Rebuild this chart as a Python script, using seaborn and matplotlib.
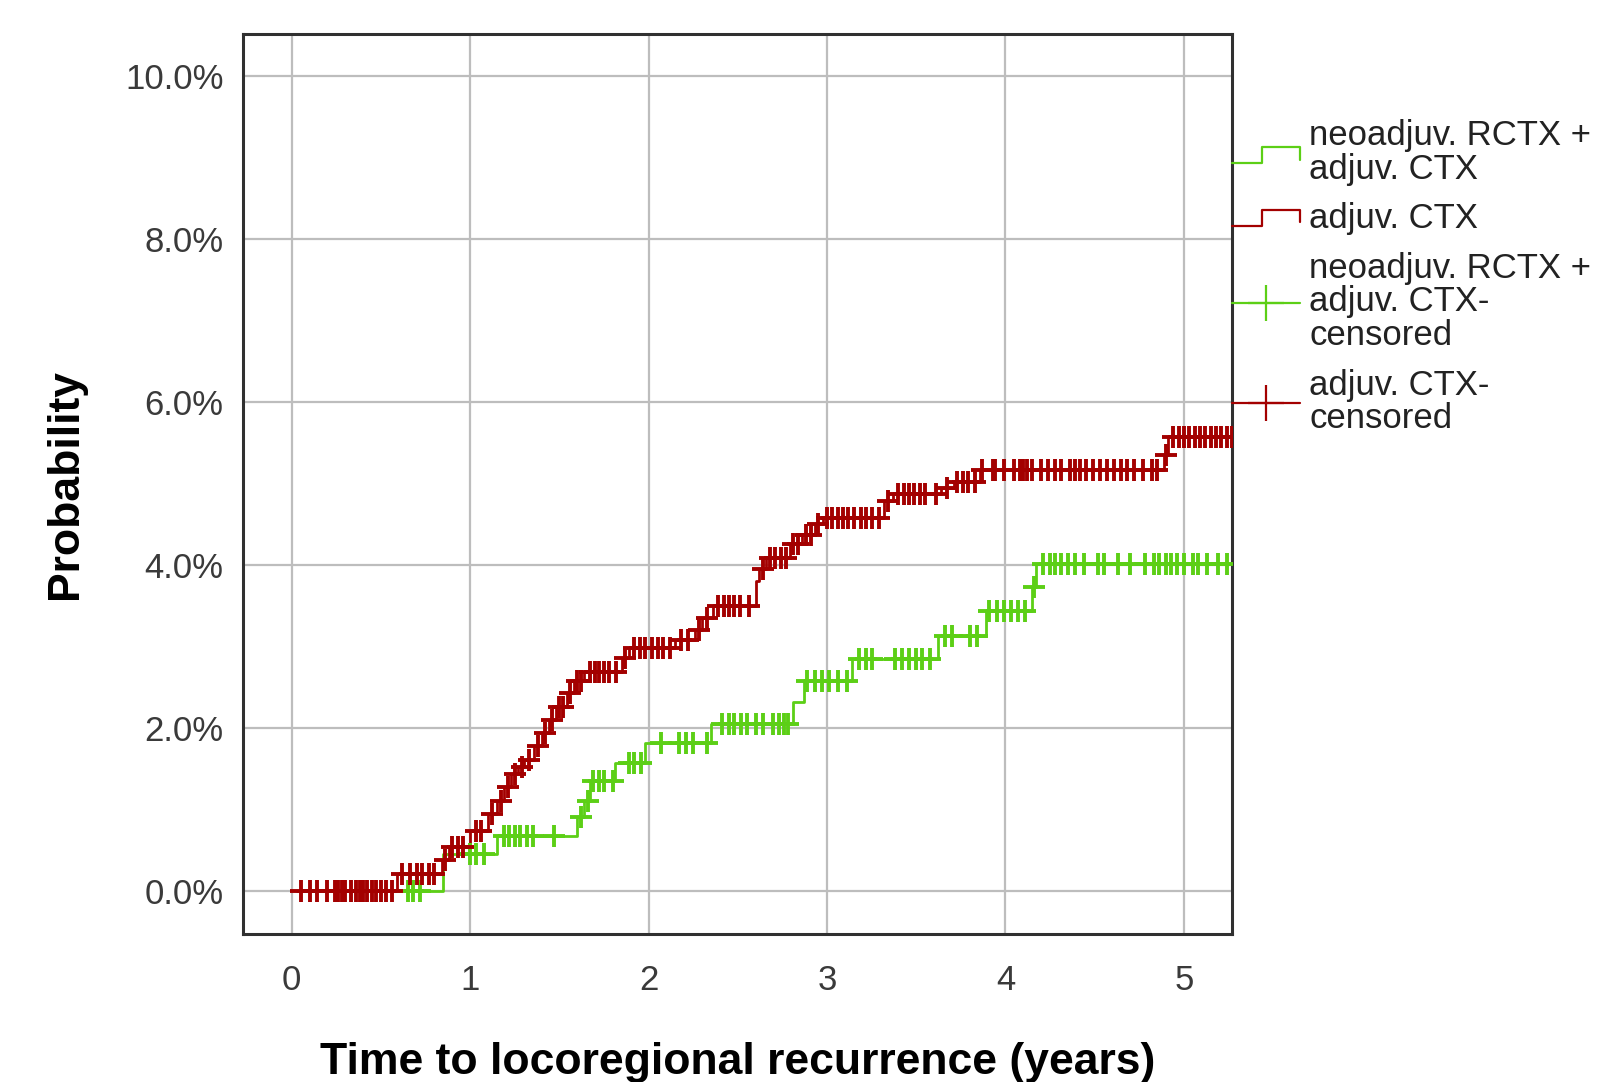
import numpy as np
import pandas as pd
import matplotlib
matplotlib.use("Agg")
import matplotlib.pyplot as plt
import seaborn as sns
from matplotlib.lines import Line2D
from matplotlib.legend_handler import HandlerBase
from matplotlib.ticker import PercentFormatter

# cumulative incidence (%) after each event
red_event_t = [0.59, 0.84, 0.88, 1.00, 1.10, 1.15, 1.19, 1.23, 1.27, 1.30, 1.36, 1.40,
               1.44, 1.48, 1.54, 1.58, 1.64, 1.85, 1.89, 2.15, 2.26, 2.30, 2.36, 2.60,
               2.62, 2.66, 2.79, 2.86, 2.93, 2.98, 3.32, 3.37, 3.64, 3.71, 3.86, 4.89, 4.91]
red_event_y = [0.20, 0.37, 0.53, 0.73, 0.94, 1.10, 1.27, 1.43, 1.52, 1.60, 1.77, 1.93,
               2.10, 2.26, 2.43, 2.57, 2.69, 2.85, 2.98, 3.08, 3.20, 3.35, 3.50, 3.80,
               3.95, 4.08, 4.25, 4.37, 4.50, 4.58, 4.78, 4.87, 4.94, 5.02, 5.17, 5.35, 5.57]
red_censor_t = [0.05, 0.10, 0.14, 0.20, 0.24, 0.26, 0.28, 0.30, 0.33, 0.36, 0.38, 0.40,
                0.42, 0.45, 0.47, 0.50, 0.53, 0.56, 0.62, 0.66, 0.70, 0.73, 0.77, 0.80,
                0.86, 0.90, 0.93, 0.96, 1.03, 1.06, 1.12, 1.17, 1.21, 1.25, 1.29, 1.33,
                1.38, 1.42, 1.46, 1.50, 1.52, 1.56, 1.60, 1.62, 1.67, 1.70, 1.72, 1.75,
                1.78, 1.82, 1.87, 1.92, 1.95, 1.98, 2.02, 2.05, 2.08, 2.12, 2.18, 2.22,
                2.28, 2.33, 2.39, 2.42, 2.45, 2.48, 2.51, 2.56, 2.64, 2.68, 2.71, 2.74,
                2.77, 2.81, 2.84, 2.88, 2.91, 2.95, 3.00, 3.03, 3.06, 3.09, 3.12, 3.15,
                3.19, 3.22, 3.25, 3.29, 3.34, 3.40, 3.43, 3.46, 3.49, 3.52, 3.55, 3.61,
                3.67, 3.73, 3.76, 3.79, 3.83, 3.87, 3.93, 3.94, 3.99, 4.05, 4.08, 4.10,
                4.12, 4.15, 4.20, 4.24, 4.28, 4.31, 4.36, 4.39, 4.42, 4.45, 4.49, 4.53,
                4.57, 4.61, 4.65, 4.68, 4.72, 4.77, 4.82, 4.85, 4.90, 4.94, 4.97, 5.00,
                5.03, 5.06, 5.09, 5.12, 5.15, 5.18, 5.21, 5.24, 5.27]

green_event_t = [0.85, 1.15, 1.60, 1.64, 1.67, 1.81, 1.98, 2.35, 2.81, 2.87, 3.14, 3.62,
                 3.89, 4.15, 4.17]
green_event_y = [0.45, 0.67, 0.90, 1.10, 1.35, 1.57, 1.81, 2.04, 2.32, 2.57, 2.84, 3.12,
                 3.43, 3.73, 4.01]
green_censor_t = [0.65, 0.68, 0.72, 1.00, 1.03, 1.08, 1.19, 1.22, 1.25, 1.28, 1.32, 1.35,
                  1.47, 1.62, 1.66, 1.69, 1.72, 1.75, 1.80, 1.89, 1.92, 1.96, 2.07, 2.17,
                  2.21, 2.25, 2.33, 2.41, 2.45, 2.48, 2.52, 2.55, 2.60, 2.64, 2.70, 2.73,
                  2.76, 2.78, 2.89, 2.93, 2.97, 3.01, 3.06, 3.11, 3.18, 3.22, 3.25, 3.38,
                  3.42, 3.46, 3.50, 3.53, 3.58, 3.66, 3.70, 3.80, 3.84, 3.91, 3.95, 3.99,
                  4.03, 4.07, 4.11, 4.16, 4.21, 4.25, 4.28, 4.31, 4.35, 4.39, 4.44, 4.52,
                  4.55, 4.63, 4.70, 4.78, 4.83, 4.86, 4.90, 4.93, 4.96, 5.00, 5.05, 5.08,
                  5.13, 5.19, 5.24]

start_t, end_t = 0.03, 5.30
labels = ["neoadjuv. RCTX +\nadjuv. CTX", "adjuv. CTX",
          "neoadjuv. RCTX +\nadjuv. CTX-\ncensored", "adjuv. CTX-\ncensored"]
green = "#5ccf16"
red = "#a30000"

sns.set_style("white")
plt.rcParams["font.family"] = ["Liberation Sans", "DejaVu Sans"]


def step_frame(ev_t, ev_y):
    t = [start_t] + list(ev_t) + [end_t]
    y = [0.0] + list(ev_y) + [ev_y[-1]]
    return pd.DataFrame({"t": t, "p": y})


def censor_frame(ev_t, ev_y, cen_t):
    steps = np.array([0.0] + list(ev_y))
    idx = np.searchsorted(np.array(ev_t), np.array(cen_t), side="right")
    return pd.DataFrame({"t": cen_t, "p": steps[idx]})


class StepHandler(HandlerBase):
    def create_artists(self, legend, orig_handle, xdescent, ydescent, width, height,
                       fontsize, trans):
        xs = np.array([0.0, 0.45, 0.45, 1.0, 1.0]) * width - xdescent
        ys = np.array([0.1, 0.1, 0.75, 0.75, 0.25]) * height - ydescent
        ln = Line2D(xs, ys, color=orig_handle.get_color(), lw=1.6)
        ln.set_transform(trans)
        return [ln]


fig = plt.figure(figsize=(15.99, 10.82), dpi=100)
ax = fig.add_axes([0.152, 0.137, 0.6185, 0.8318])

for ev_t, ev_y, col in [(green_event_t, green_event_y, green), (red_event_t, red_event_y, red)]:
    sns.lineplot(data=step_frame(ev_t, ev_y), x="t", y="p", ax=ax, color=col,
                 drawstyle="steps-post", estimator=None, sort=False, lw=2.0)

for ev_t, ev_y, cen_t, col in [(green_event_t, green_event_y, green_censor_t, green),
                               (red_event_t, red_event_y, red_censor_t, red)]:
    sns.scatterplot(data=censor_frame(ev_t, ev_y, cen_t), x="t", y="p", ax=ax,
                    marker="+", s=240, color=col, linewidth=2.8, zorder=3)

ax.set_xlim(-0.273, 5.27)
ax.set_ylim(-0.53, 10.52)
ax.set_xticks([0, 1, 2, 3, 4, 5])
ax.set_yticks([0, 2, 4, 6, 8, 10])
ax.yaxis.set_major_formatter(PercentFormatter(100, decimals=1))
ax.grid(True, color="#bdbdbd", lw=1.6)
ax.set_axisbelow(True)
for sp in ax.spines.values():
    sp.set_color("#303030")
    sp.set_linewidth(2.2)
ax.tick_params(axis="both", length=0, labelsize=25, labelcolor="#3a3a3a")
ax.tick_params(axis="x", pad=22)
ax.tick_params(axis="y", pad=14)
ax.set_xlabel("Time to locoregional recurrence (years)", fontsize=32,
              fontweight="bold", labelpad=32, color="black")
ax.set_ylabel("Probability", fontsize=32, fontweight="bold", labelpad=28, color="black")

h1 = Line2D([], [], color=green)
h2 = Line2D([], [], color=red)
h3 = Line2D([], [], color=green, lw=1.6, marker="+", markersize=26, markeredgewidth=1.6)
h4 = Line2D([], [], color=red, lw=1.6, marker="+", markersize=26, markeredgewidth=1.6)
leg = ax.legend([h1, h2, h3, h4], labels, loc="upper left", bbox_to_anchor=(1.0, 0.905),
                frameon=False, fontsize=25, handlelength=1.95, handletextpad=0.28,
                borderaxespad=0, borderpad=0, labelspacing=0.47, numpoints=1,
                handler_map={h1: StepHandler(), h2: StepHandler()})
for t in leg.get_texts():
    t.set_linespacing(1.03)
    t.set_color("#222222")

fig.savefig("out.png", dpi=100)
